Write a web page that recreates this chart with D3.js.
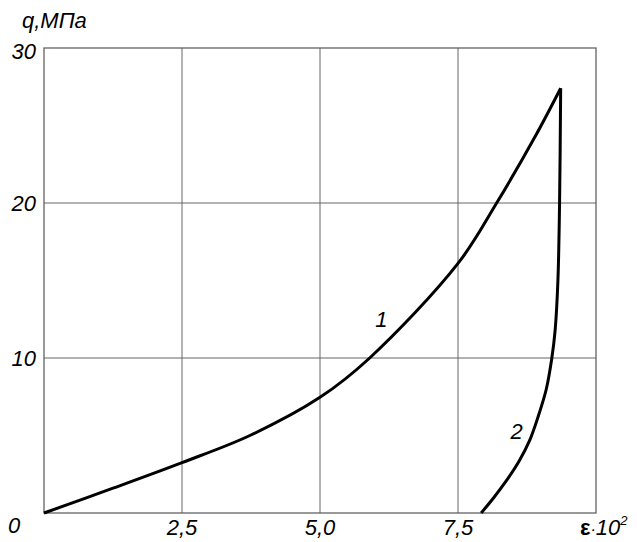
<!DOCTYPE html>
<html>
<head>
<meta charset="utf-8">
<script src="https://cdn.jsdelivr.net/npm/d3@7"></script>
<style>
  body { margin: 0; background: #fff; }
  text { font-family: "Liberation Sans", Arial, sans-serif; font-style: italic; fill: #000; }
</style>
</head>
<body>
<div id="chart"></div>
<script>
// loading curve (1) and unloading curve (2), strain in 10^-2, stress in MPa
var curve1X = [0, 1.25, 2.5, 3.73, 5, 5.9, 7.5, 8.2, 8.9, 9.36];
var curve1Y = [0, 1.6, 3.25, 5.0, 7.46, 10, 16.1, 20, 24.3, 27.4];
var curve2X = [9.36, 9.34, 9.31, 9.26, 9.2, 9.1, 8.95, 8.8, 8.6, 8.38, 8.15, 7.92];
var curve2Y = [27.4, 20, 15, 11.8, 10, 8, 6.2, 4.7, 3.3, 2.1, 1, 0];
var xTicks = [2.5, 5.0, 7.5];
var xTickLabels = ["2,5", "5,0", "7,5"];
var yTicks = [10, 20, 30];

var W = 637, H = 542;
var margin = {top: 48, right: 41, bottom: 29, left: 44},
  width = W - margin.left - margin.right,
  height = H - margin.top - margin.bottom;

var svg = d3.select("#chart").append("svg")
  .attr("width", W).attr("height", H);

var g = svg.append("g")
  .attr("transform", "translate(" + margin.left + "," + margin.top + ")");

var x = d3.scaleLinear().domain([0, 10]).range([0, width]);
var y = d3.scaleLinear().domain([0, 30]).range([height, 0]);

// grid
g.selectAll(".vgrid").data(xTicks).enter().append("line")
  .attr("x1", d => x(d)).attr("x2", d => x(d))
  .attr("y1", 0).attr("y2", height)
  .attr("stroke", "#666").attr("stroke-width", 1);
g.selectAll(".hgrid").data(yTicks.slice(0, 2)).enter().append("line")
  .attr("x1", 0).attr("x2", width)
  .attr("y1", d => y(d)).attr("y2", d => y(d))
  .attr("stroke", "#666").attr("stroke-width", 1);

// frame
g.append("rect")
  .attr("width", width).attr("height", height)
  .attr("fill", "none").attr("stroke", "#555").attr("stroke-width", 1.2);

var line = d3.line()
  .x(d => x(d[0])).y(d => y(d[1]))
  .curve(d3.curveCatmullRom.alpha(0.5));

g.append("path")
  .datum(curve1X.map((v, i) => [v, curve1Y[i]]))
  .attr("d", line)
  .attr("fill", "none").attr("stroke", "#000").attr("stroke-width", 3);
g.append("path")
  .datum(curve2X.map((v, i) => [v, curve2Y[i]]))
  .attr("d", line)
  .attr("fill", "none").attr("stroke", "#000").attr("stroke-width", 3);

// tick labels
g.selectAll(".xl").data(xTicks).enter().append("text")
  .attr("x", d => x(d)).attr("y", height + 22)
  .attr("text-anchor", "middle").attr("font-size", 22)
  .text((d, i) => xTickLabels[i]);
g.selectAll(".yl").data(yTicks).enter().append("text")
  .attr("x", -8).attr("y", d => y(d) + (d === 30 ? 11 : 8))
  .attr("text-anchor", "end").attr("font-size", 22)
  .text(d => d);
g.append("text").attr("x", -36).attr("y", height + 20)
  .attr("font-size", 22).text("0");

// axis titles
svg.append("text").attr("x", 22).attr("y", 28)
  .attr("font-size", 22).text("q,МПа");
var xt = svg.append("text").attr("x", 580).attr("y", 535).attr("font-size", 22);
xt.append("tspan").attr("font-weight", "bold").attr("font-style", "normal").text("ε");
xt.append("tspan").attr("font-size", 16).text("·");
xt.append("tspan").text("10");
xt.append("tspan").attr("font-size", 13).attr("dy", -10).text("2");

// curve labels
g.append("text").attr("x", x(6.0)).attr("y", y(12.0))
  .attr("font-size", 22).text("1");
g.append("text").attr("x", x(8.45)).attr("y", y(4.8))
  .attr("font-size", 22).text("2");
</script>
</body>
</html>
